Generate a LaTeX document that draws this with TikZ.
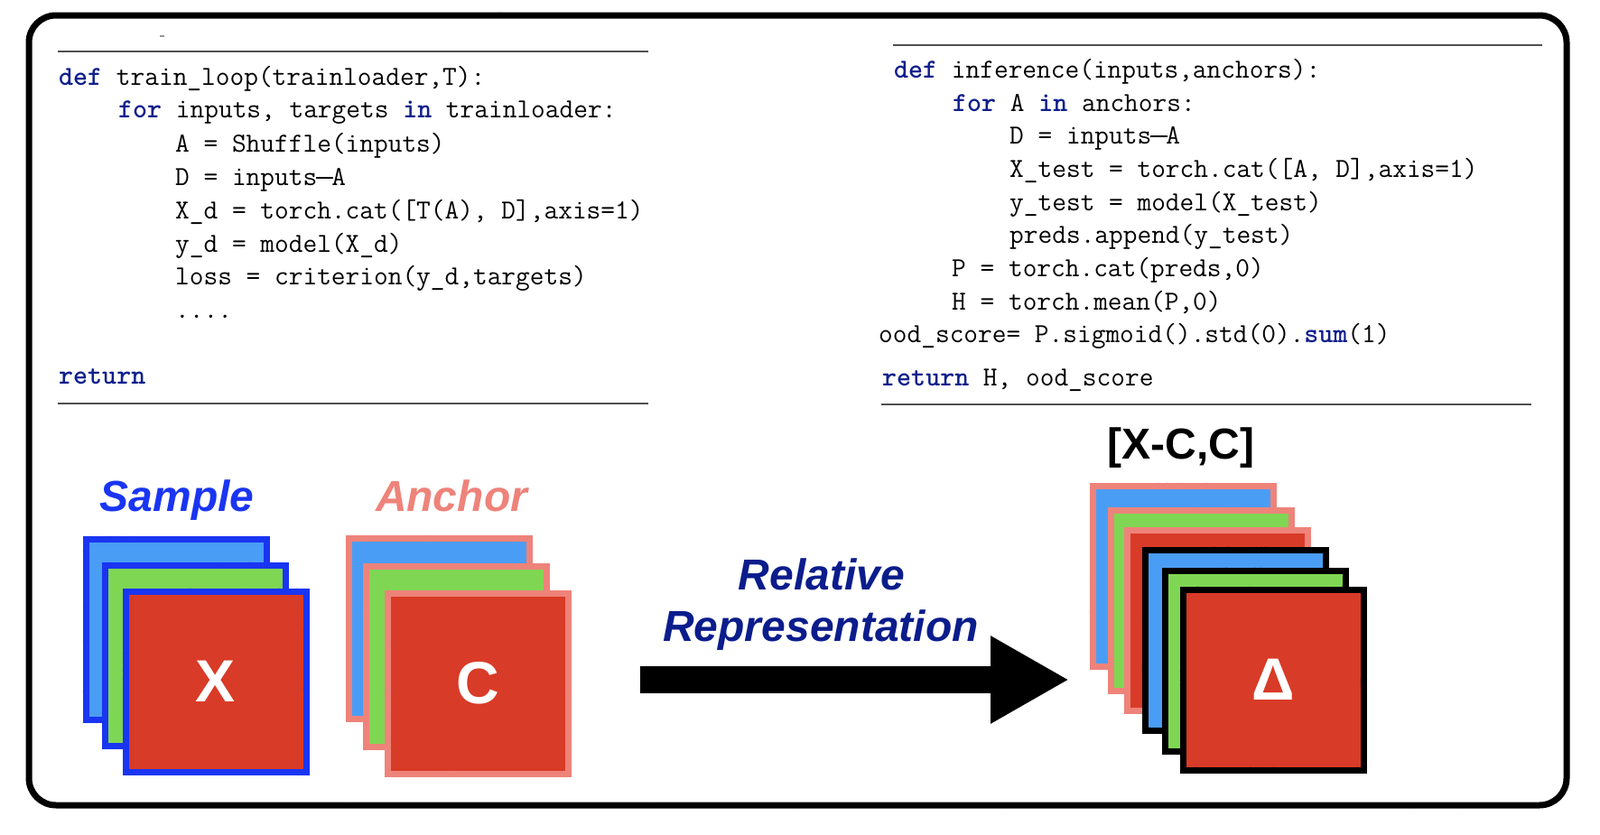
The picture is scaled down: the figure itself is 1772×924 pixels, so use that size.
\documentclass[tikz,border=0pt]{standalone}
\usepackage{fontspec}
\newfontfamily\hv{Liberation Sans}
\usetikzlibrary{arrows.meta,decorations.pathmorphing}
\definecolor{kwblue}{HTML}{10208C}
\definecolor{navy}{HTML}{0B1D8C}
\definecolor{sblue}{HTML}{1A35F2}
\definecolor{salmon}{HTML}{EE837A}
\definecolor{lblue}{HTML}{4A9DF5}
\definecolor{lgreen}{HTML}{7FD653}
\definecolor{lred}{HTML}{D83B27}
\definecolor{rulegray}{HTML}{505050}
\newcommand\kwd[1]{\textcolor{kwblue}{\bfseries #1}}
\newcommand\mdash{\makebox[0.525em][c]{\rule[0.24em]{0.62em}{0.06em}}}
\begin{document}
\begin{tikzpicture}[x=1pt,y=-1pt,
  code/.style={anchor=base west, inner sep=0pt, font=\fontsize{30.5}{36}\selectfont\ttfamily, text=black},
  coderule/.style={draw=rulegray, line width=2pt},
  roughline/.style={decorate, line join=round, line cap=round, decoration={random steps, segment length=3pt, amplitude=1.8pt}},
  sq/.style 2 args={minimum width=200pt, minimum height=200pt, inner sep=0pt, fill=#1, draw=#2, line width=7pt,
     postaction={draw=#2, line width=3pt, roughline}},
  sqtext/.style={text=white, font=\hv\bfseries\fontsize{66}{70}\selectfont},
  biglabel/.style={anchor=base, font=\hv\bfseries\itshape\fontsize{48}{50}\selectfont}
]
\useasboundingbox (0,0) rectangle (1772,924);

% outer frame
\draw[line width=7pt, rounded corners=30pt] (32,17) rectangle (1735,892);
\draw[line width=2.5pt, roughline] (62,17) -- (1705,17);
\draw[line width=2.5pt, roughline] (62,892) -- (1705,892);
\draw[line width=2.5pt, roughline] (32,47) -- (32,862);
\draw[line width=2.5pt, roughline] (1735,47) -- (1735,862);

% small mark
\draw[rulegray!60, line width=1.5pt] (177,40) -- (182,40);

% left code block
\draw[coderule] (64,57) -- (718,57);
\draw[coderule] (64,447) -- (718,447);
\node[code] (t1) at (65,94) {\kwd{def} train\_loop(trainloader,T):};
\node[code] (t2) at (131,130) {\kwd{for} inputs, targets \kwd{in} trainloader:};
\node[code] (t3) at (194,168) {A = Shuffle(inputs)};
\node[code] (t4) at (194,205) {D = inputs\mdash A};
\node[code] (t5) at (194,242) {X\_d = torch.cat([T(A), D],axis=1)};
\node[code] (t6) at (194,279) {y\_d = model(X\_d)};
\node[code] (t7) at (194,315) {loss = criterion(y\_d,targets)};
\node[code] (t8) at (194,352) {....};
\node[code] (t9) at (65,425) {\kwd{return}};

% right code block
\draw[coderule] (989,50) -- (1708,50);
\draw[coderule] (976,448) -- (1696,448);
\node[code] (r1) at (990,86) {\kwd{def} inference(inputs,anchors):};
\node[code] (r2) at (1055,123) {\kwd{for} A \kwd{in} anchors:};
\node[code] (r3) at (1118,159) {D = inputs\mdash A};
\node[code] (r4) at (1118,196) {X\_test = torch.cat([A, D],axis=1)};
\node[code] (r5) at (1118,233) {y\_test = model(X\_test)};
\node[code] (r6) at (1118,269) {preds.append(y\_test)};
\node[code] (r7) at (1054,306) {P = torch.cat(preds,0)};
\node[code] (r8) at (1054,343) {H = torch.mean(P,0)};
\node[code] (r9) at (973,379) {ood\_score= P.sigmoid().std(0).\kwd{sum}(1)};
\node[code] (r10) at (977,427) {\kwd{return} H, ood\_score};

% labels
\node[biglabel, text=sblue] (samp) at (196,566) {Sample};
\node[biglabel, text=salmon] (anch) at (500,566) {Anchor};
\node[biglabel, text=navy] (rel) at (910,653) {Relative};
\node[biglabel, text=navy] (rep) at (909,710) {Representation};
\node[anchor=base, font=\hv\bfseries\fontsize{48}{50}\selectfont] (xcc) at (1308,508) {[X-C,C]};

% sample stack
\node[sq={lblue}{sblue}] (sb) at (195,697) {};
\node[sq={lgreen}{sblue}] (sg) at (216,726) {};
\node[sq={lred}{sblue}, sqtext] (sr) at (239,755) {X};

% anchor stack
\node[sq={lblue}{salmon}] (ab) at (486,696) {};
\node[sq={lgreen}{salmon}] (ag) at (505,727) {};
\node[sq={lred}{salmon}, sqtext] (ar) at (529,757) {C};

% relative stack
\node[sq={lblue}{salmon}] (d1) at (1310,638) {};
\node[sq={lgreen}{salmon}] (d2) at (1330,665) {};
\node[sq={lred}{salmon}] (d3) at (1348,687) {};
\node[sq={lblue}{black}] (d4) at (1368,709) {};
\node[sq={lgreen}{black}] (d5) at (1390,732) {};
\node[sq={lred}{black}, sqtext] (d6) at (1410,753) {Δ};

% arrow
\coordinate (a0) at (709,753);
\coordinate (a1) at (1184,753);
\draw[line width=30pt, -{Triangle[length=87pt, width=91pt]}] (a0) -- (a1);
\end{tikzpicture}
\end{document}
